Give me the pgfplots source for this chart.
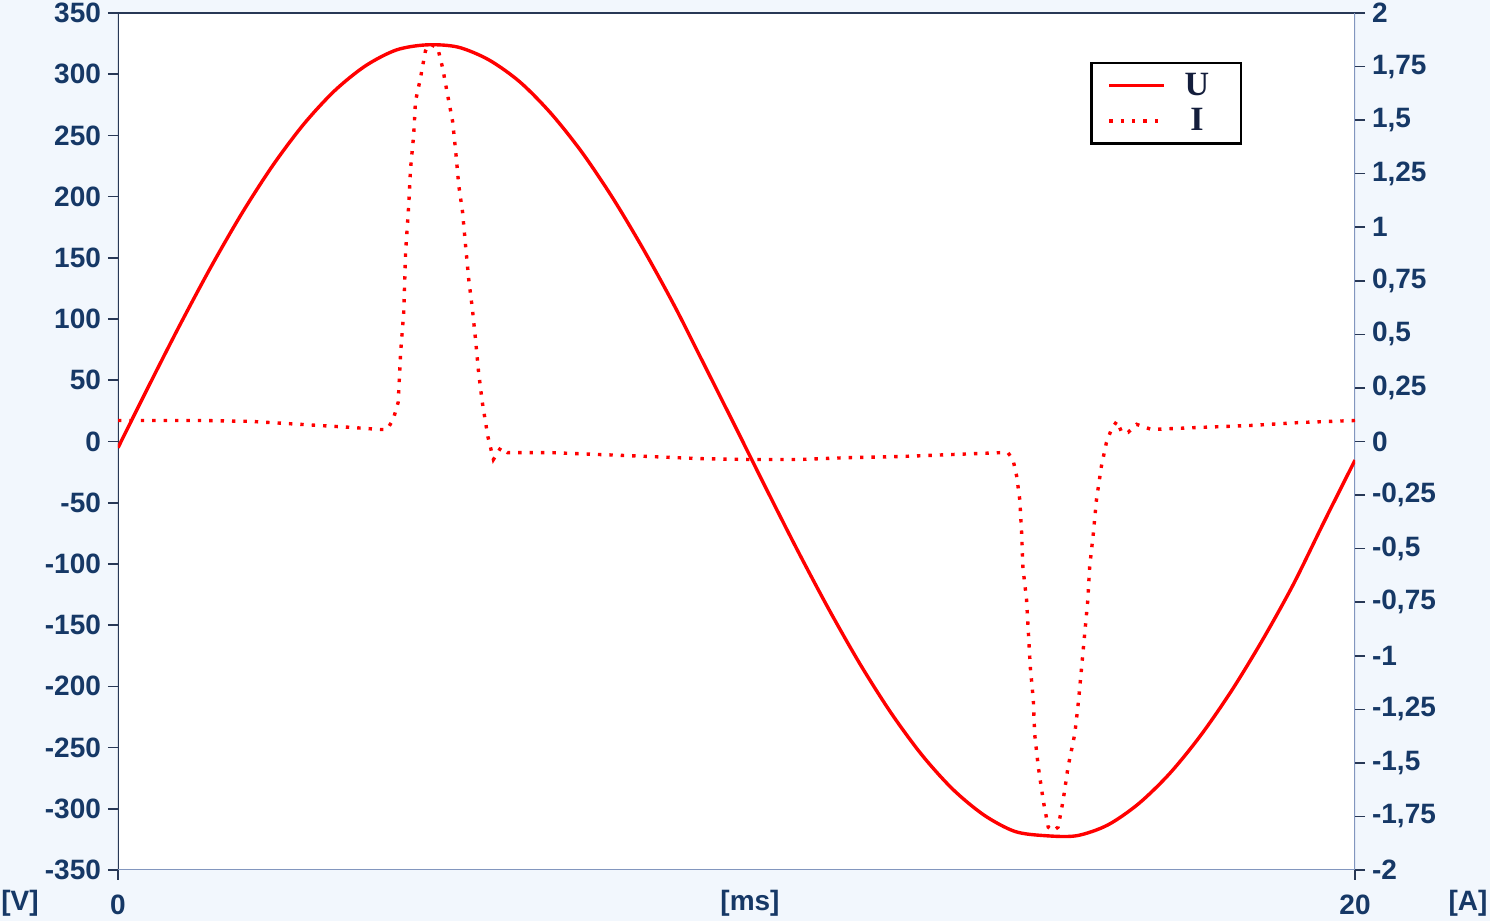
\documentclass[border=0pt]{standalone}
\usepackage{pgfplots}
\pgfplotsset{compat=1.18}
\usepackage{fontspec}
\setmainfont{Liberation Sans}
\newfontfamily\legfont{Liberation Serif}
\definecolor{bgc}{RGB}{242,247,253}
\definecolor{txt}{RGB}{22,56,102}
\definecolor{axdark}{RGB}{40,56,86}
\definecolor{axlight}{RGB}{130,150,190}
\definecolor{legtxt}{RGB}{20,30,60}
\begin{document}
\begin{tikzpicture}
\useasboundingbox (-59pt,-25.5pt) rectangle (686pt,435pt);
\fill[bgc] (-59pt,-25.5pt) rectangle (686pt,435pt);
\pgfplotsset{
 common/.style={
  width=618.5pt, height=428.5pt, scale only axis, at={(0,0)}, anchor=south west,
  xmin=0, xmax=20,
  tick align=outside, major tick length=5pt,
  tick style={color=axdark, line width=0.8pt},
  ticklabel style={font=\fontsize{14}{16}\selectfont\bfseries, text=txt},
  axis line style={draw=none},
 }
}
\begin{axis}[common, ymin=-350, ymax=350,
  axis background/.style={fill=white},
  xtick={0,20}, xticklabels={0,20}, xtick pos=bottom,
  xticklabel style={yshift=-4pt},
  ytick={-350,-300,...,350}, ytick pos=left,
  yticklabels={-350,-300,-250,-200,-150,-100,-50,0,50,100,150,200,250,300,350},
]
\draw[axdark, line width=1.3pt] (rel axis cs:0,0) -- (rel axis cs:0,1) -- (rel axis cs:1,1);
\draw[axlight, line width=1pt] (rel axis cs:0,0) -- (rel axis cs:1,0) -- (rel axis cs:1,1);
\addplot[red, line width=1.7pt, smooth] coordinates {
(0,-5.1) (0.5,45.6) (1,95.1) (1.5,142.3) (2,186.1) (2.5,225.3) (3,259.0) (3.5,286.4)
(4,306.8) (4.5,319.8) (5,324.0) (5.5,322.1) (6,311.6) (6.5,293.6) (7,268.0) (7.5,236.3)
(8,198.8) (8.5,156.5) (9,110.5) (9.5,60.5) (10,10.2) (10.5,-40.5) (11,-90.2) (11.5,-137.7)
(12,-182.0) (12.5,-221.8) (13,-256.2) (13.5,-284.2) (14,-305.1) (14.5,-318.5) (15,-322.0)
(15.5,-322.0) (16,-313.3) (16.5,-295.9) (17,-271.4) (17.5,-240.4) (18,-203.9) (18.5,-162.5)
(19,-117.0) (19.5,-65.6) (20,-15.2)
};
\end{axis}
\begin{axis}[common, ymin=-2, ymax=2,
  xtick=\empty,
  ytick={-2,-1.75,...,2}, ytick pos=right,
  yticklabels={{-2},{-1,75},{-1,5},{-1,25},{-1},{-0,75},{-0,5},{-0,25},{0},{0,25},{0,5},{0,75},{1},{1,25},{1,5},{1,75},{2}},
  legend style={at={(rel axis cs:0.786,0.943)}, anchor=north west, draw=black, line width=1.2pt,
    fill=white, font=\legfont\bfseries\fontsize{17}{19}\selectfont, text=legtxt,
    inner xsep=8pt, inner ysep=3pt, row sep=1pt, nodes={inner xsep=2pt},
    /tikz/every odd column/.append style={column sep=1.5pt}},
  legend image code/.code={\draw[#1] (0pt,0pt) -- (27.5pt,0pt);},
]
\addlegendimage{red, line width=1.7pt}
\addlegendentry[text width=24pt, align=center]{U}
\addplot[red, line width=1.7pt, dash pattern=on 1.7pt off 4pt] coordinates {
(0,0.098) (1.33,0.098) (2.14,0.094) (2.95,0.080) (3.76,0.066) (4.24,0.056) (4.35,0.056)
(4.45,0.103) (4.53,0.183) (4.57,0.417) (4.62,0.604) (4.65,0.885) (4.70,1.10) (4.73,1.274)
(4.78,1.429) (4.81,1.588) (4.89,1.696) (4.97,1.822) (5.02,1.85) (5.08,1.85) (5.17,1.836)
(5.25,1.742) (5.33,1.616) (5.41,1.494) (5.46,1.354) (5.51,1.194) (5.57,1.073) (5.62,0.913)
(5.67,0.759) (5.73,0.618) (5.78,0.478) (5.83,0.323) (5.89,0.183) (5.98,0.023) (6.07,-0.084)
(6.19,-0.028) (6.30,-0.052) (7.0,-0.052) (7.8,-0.061) (8.6,-0.070) (9.4,-0.080) (10.2,-0.084)
(11.0,-0.084) (11.85,-0.075) (12.66,-0.070) (13.47,-0.061) (14.28,-0.052) (14.39,-0.053)
(14.47,-0.084) (14.53,-0.162) (14.58,-0.272) (14.61,-0.427) (14.63,-0.585) (14.69,-0.74)
(14.72,-0.896) (14.75,-1.053) (14.80,-1.21) (14.82,-1.364) (14.88,-1.52) (14.96,-1.677)
(15.04,-1.80) (15.12,-1.817) (15.20,-1.80) (15.28,-1.677) (15.36,-1.52) (15.47,-1.364)
(15.53,-1.21) (15.58,-1.053) (15.63,-0.896) (15.68,-0.74) (15.71,-0.585) (15.77,-0.427)
(15.82,-0.272) (15.90,-0.115) (15.98,-0.006) (16.06,0.056) (16.15,0.095) (16.23,0.042)
(16.33,0.042) (16.47,0.080) (16.71,0.056) (17.52,0.066) (18.33,0.075) (19.14,0.089) (20,0.098)
};
\addlegendentry[text width=24pt, align=center]{I}
\end{axis}
\node[font=\fontsize{14}{16}\selectfont\bfseries, text=txt] at (-49pt,-16.5pt) {[V]};
\node[font=\fontsize{14}{16}\selectfont\bfseries, text=txt] at (316pt,-16.5pt) {[ms]};
\node[font=\fontsize{14}{16}\selectfont\bfseries, text=txt] at (675pt,-16.5pt) {[A]};
\end{tikzpicture}
\end{document}
